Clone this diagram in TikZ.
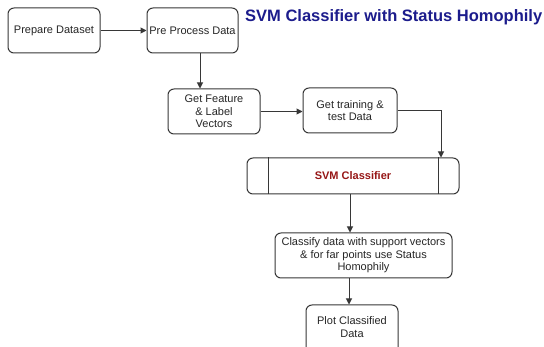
\documentclass[tikz,border=0pt]{standalone}
\usepackage{fontspec}
\setmainfont{Liberation Sans}
\usetikzlibrary{arrows.meta}
\definecolor{titleblue}{RGB}{28,28,140}
\definecolor{svmred}{RGB}{150,22,22}
\definecolor{edge}{RGB}{55,55,55}
\tikzset{
  flowbox/.style={draw=edge, line width=1pt, rounded corners=6pt, align=center,
    font=\fontsize{11}{12.5}\selectfont, inner sep=1pt, text=black!85},
  arr/.style={draw=edge, line width=1pt, -{Triangle[length=6pt,width=6pt]}},
}
\begin{document}
\begin{tikzpicture}[x=1pt,y=-1pt]
\useasboundingbox (0,0) rectangle (544,347);
\clip (0,0) rectangle (544,347);
\fill[white] (0,0) rectangle (544,347);

% title
\node[font=\fontsize{16.5}{18}\selectfont\bfseries, text=titleblue, anchor=west, inner sep=0pt] (title) at (245,17) {SVM Classifier with Status Homophily};

% process boxes
\node[flowbox, minimum width=92pt, minimum height=45pt] (prep) at (54,30.5) {Prepare Dataset};
\node[flowbox, minimum width=91pt, minimum height=45pt] (pre) at (192.5,30.5) {Pre Process Data};
\node[flowbox, minimum width=92pt, minimum height=45pt] (feat) at (214,111.5) {Get Feature\\ \& Label\\ Vectors};
\node[flowbox, minimum width=94pt, minimum height=45pt] (train) at (350,110.5) {Get training \&\\ test Data};
\node[flowbox, minimum width=212pt, minimum height=36pt, text=svmred, font=\fontsize{11}{12.5}\selectfont\bfseries] (svm) at (353,176) {SVM Classifier};
\draw[draw=edge, line width=1pt] ([xshift=22pt]svm.north west) -- ([xshift=22pt]svm.south west);
\draw[draw=edge, line width=1pt] ([xshift=-21pt]svm.north east) -- ([xshift=-21pt]svm.south east);
\node[flowbox, minimum width=177pt, minimum height=45pt] (cls) at (363.5,255.5) {Classify data with support vectors\\ \& for far points use Status\\ Homophily};
\node[flowbox, minimum width=92pt, minimum height=50pt] (plot) at (352,330) {};
\node[font=\fontsize{11}{12.5}\selectfont, align=center, text=black!85] (plottext) at (352,327) {Plot Classified\\ Data};

% connectors
\draw[arr] (prep.east) -- (pre.west);
\draw[arr] ([xshift=7.5pt]pre.south) -- ([xshift=7.5pt]pre.south |- feat.north);
\draw[arr] (feat.east) -- (train.west |- feat.east);
\draw[arr] (train.east) -| ([xshift=88pt]svm.north);
\draw[arr] ([xshift=-3pt]svm.south) -- ([xshift=-3pt]svm.south |- cls.north);
\draw[arr] ([xshift=-3pt]plot.north |- cls.south) -- ([xshift=-3pt]plot.north);
\end{tikzpicture}
\end{document}
